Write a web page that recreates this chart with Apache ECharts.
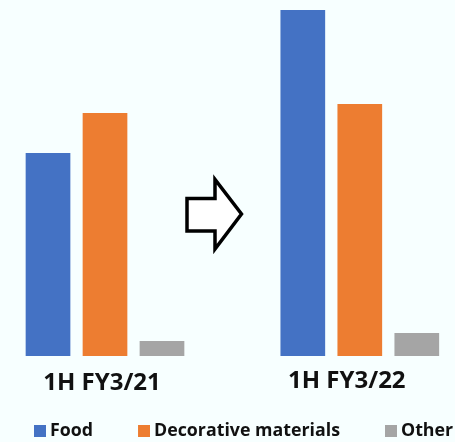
<!DOCTYPE html>
<html>
<head>
<meta charset="utf-8">
<script src="https://cdn.jsdelivr.net/npm/echarts@6/dist/echarts.min.js"></script>
<style>
html,body{margin:0;padding:0;background:#F7FFFF;}
#chart{width:455px;height:442px;}
</style>
</head>
<body>
<div id="chart"></div>
<script>
// Category labels (middle slot reserved for the arrow)
const categories = ['1H FY3/21', '', '1H FY3/22'];
// Series values (relative scale)
const food = [203, null, 346];
const decorative = [243, null, 252];
const other = [15, null, 23];
const seriesNames = ['Food', 'Decorative materials', 'Other'];

const chart = echarts.init(document.getElementById('chart'), null, {renderer: 'canvas'});
const font = '"Open Sans", "Noto Sans", sans-serif';

function bar(name, data, color) {
  return {
    name: name, type: 'bar', data: data,
    barWidth: 44.7, barGap: '27.5%',
    clip: false,
    itemStyle: {color: color},
    silent: true
  };
}

chart.setOption({
  backgroundColor: '#F7FFFF',
  animation: false,
  grid: {left: 41.3, right: 31.5, top: 6, bottom: 86, containLabel: false},
  xAxis: {
    type: 'category', data: categories,
    axisLine: {show: false}, axisTick: {show: false},
    axisLabel: {
      margin: 13,
      interval: 0,
      formatter: function (v, i) { return i === 0 ? '{a|' + v + '}' : (i === 2 ? '{b|' + v + '}' : ''); },
      rich: {
        a: {fontFamily: font, fontWeight: 'bold', fontSize: 24, color: '#111', padding: [2, 6, 0, 0]},
        b: {fontFamily: font, fontWeight: 'bold', fontSize: 24, color: '#111', padding: [0, 26, 0, 0]}
      }
    }
  },
  yAxis: {
    type: 'value', min: 0, max: 350, show: false,
    splitLine: {show: false}
  },
  legend: {
    left: 34, top: 422, width: 440,
    padding: 0,
    itemWidth: 12, itemHeight: 12, itemGap: 45,
    icon: 'rect',
    textStyle: {fontFamily: font, fontWeight: 'bold', fontSize: 17.8, color: '#111', lineHeight: 18, padding: [0,0,0,-1]},
    data: seriesNames
  },
  series: [
    bar(seriesNames[0], food, '#4472C4'),
    bar(seriesNames[1], decorative, '#ED7D31'),
    bar(seriesNames[2], other, '#A5A5A5')
  ],
  graphic: [{
    type: 'polygon',
    shape: {points: [[187, 198.4], [215, 198.4], [215, 179.5], [241.5, 214], [215, 249], [215, 231], [187, 231]]},
    style: {fill: '#FFFFFF', stroke: '#000000', lineWidth: 3.5, lineJoin: 'miter'}
  }]
});
</script>
</body>
</html>
